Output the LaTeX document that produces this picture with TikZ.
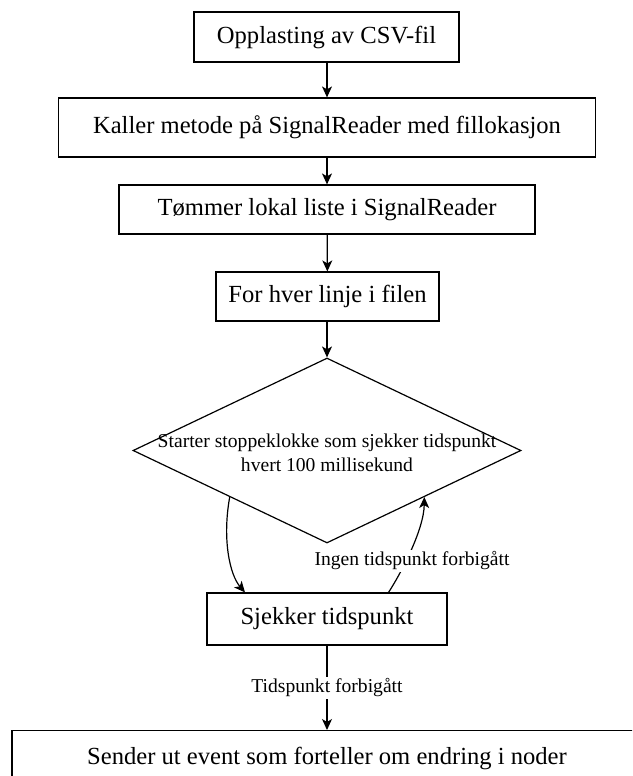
\documentclass[tikz,border=0pt]{standalone}
\usepackage{fontspec}
\setmainfont{Liberation Serif}
\usetikzlibrary{shapes.geometric,arrows.meta,calc}

\begin{document}
\begin{tikzpicture}[x=1pt,y=-1pt,
  box/.style={draw, line width=1.2pt, rectangle, inner sep=0pt,
    font=\fontsize{24.6}{29}\selectfont},
  lbl/.style={fill=white, inner sep=1.5pt, font=\fontsize{19.6}{23}\selectfont},
  flow/.style={draw, line width=1.2pt, -{Stealth[length=11pt,width=10pt,inset=3pt]}}]
\clip (0,0) rectangle (632,776);
\fill[white] (0,0) rectangle (632,776);

% process steps
\node[box, minimum width=265pt, minimum height=50pt] (b1) at (326.5,37) {Opplasting av CSV-fil};
\node[box, minimum width=537pt, minimum height=59pt] (b2) at (327,127.5) {Kaller metode på SignalReader med fillokasjon};
\node[box, minimum width=416pt, minimum height=49pt] (b3) at (327,209.5) {Tømmer lokal liste i SignalReader};
\node[box, minimum width=223pt, minimum height=49pt] (b4) at (327.5,296.5) {For hver linje i filen};

% decision
\node[diamond, draw, line width=1.2pt, inner sep=0pt,
      minimum width=388pt, minimum height=185pt] (dia) at (327,450.5) {};
\node[align=center, inner sep=0pt, font=\fontsize{19.6}{23.5}\selectfont]
  (diatext) at (327,453) {Starter stoppeklokke som sjekker tidspunkt\\hvert 100 millisekund};

\node[box, minimum width=240pt, minimum height=52pt] (b5) at (327,619) {Sjekker tidspunkt};
\node[box, minimum width=630pt, minimum height=56pt, anchor=north] (b6) at (327,730)
  {Sender ut event som forteller om endring i noder};

% connectors
\draw[flow] (b1.south -| b2.north) -- (b2.north);
\draw[flow] (b2) -- (b3);
\draw[flow] (b3) -- (b4);
\draw[flow] (b4.south -| dia.north) -- (dia.north);

\coordinate (dl) at ($(dia.west)!0.5!(dia.south)$);
\coordinate (dr) at ($(dia.east)!0.5!(dia.south)$);
\coordinate (bl) at ($(b5.north west)!0.16!(b5.north east)$);
\coordinate (br) at ($(b5.north west)!0.755!(b5.north east)$);

\draw[flow] (dl) .. controls (222,540) and (230,575) .. (bl);
\draw[flow] (br) .. controls (400,575) and (424,530) .. (dr)
  node[lbl, pos=0.4, xshift=6pt] {Ingen tidspunkt forbigått};

\draw[flow] (b5) -- node[lbl] {Tidspunkt forbigått} (b6);
\end{tikzpicture}
\end{document}
